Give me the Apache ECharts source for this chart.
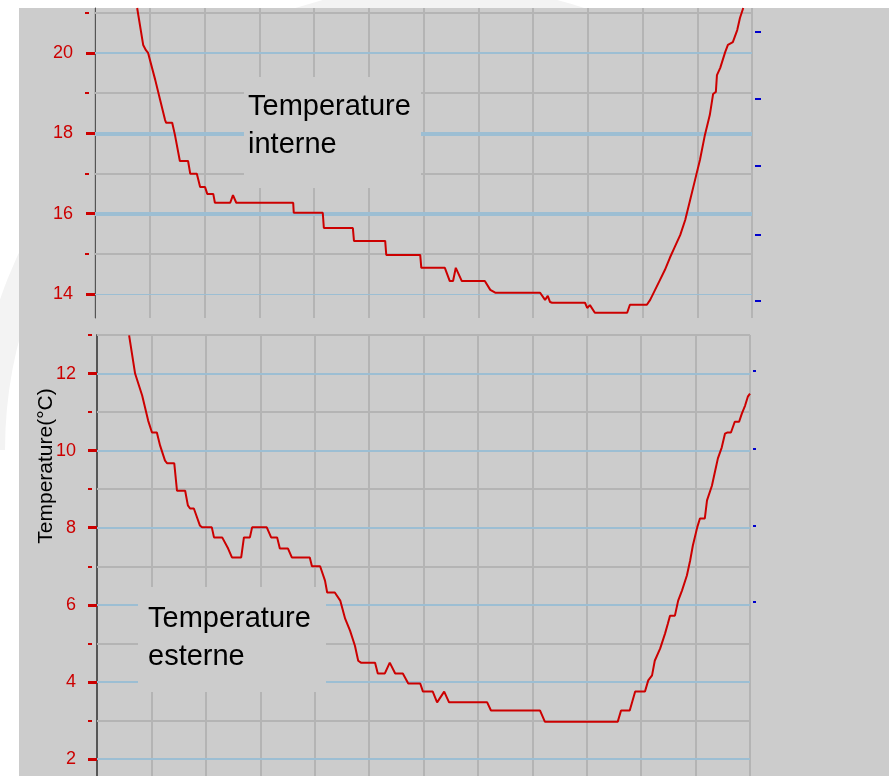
<!DOCTYPE html>
<html><head><meta charset="utf-8">
<script src="https://cdn.jsdelivr.net/npm/echarts@6/dist/echarts.min.js"></script>
<style>html,body{margin:0;padding:0;background:#fff}#c{width:889px;height:776px}</style>
</head><body><div id="c"></div>
<script>
// ---- data (x in grid columns 0..12, y in °C) ----
const topX = [0.77,0.88,0.93,0.97,1.10,1.19,1.28,1.30,1.41,1.46,1.55,1.70,1.74,1.86,1.92,2.01,2.05,2.16,2.19,2.47,2.52,2.58,3.62,3.63,4.16,4.18,4.71,4.73,5.30,5.32,5.94,5.96,6.39,6.48,6.54,6.59,6.70,7.12,7.22,7.31,8.13,8.22,8.27,8.31,8.35,8.95,8.99,9.04,9.13,9.72,9.77,10.08,10.14,10.23,10.32,10.41,10.50,10.59,10.69,10.78,10.87,10.96,11.05,11.14,11.23,11.29,11.34,11.36,11.42,11.51,11.56,11.65,11.73,11.78,11.84];
const topTemps = [21.12,20.20,20.07,20.00,19.33,18.83,18.33,18.26,18.26,17.96,17.31,17.31,16.99,16.99,16.66,16.66,16.49,16.49,16.27,16.27,16.46,16.27,16.27,16.02,16.02,15.64,15.64,15.32,15.32,14.97,14.97,14.65,14.65,14.32,14.32,14.65,14.32,14.32,14.10,14.03,14.03,13.85,13.95,13.80,13.78,13.78,13.65,13.72,13.53,13.53,13.73,13.73,13.85,14.10,14.35,14.60,14.90,15.17,15.47,15.84,16.34,16.84,17.34,17.96,18.46,18.98,19.03,19.45,19.63,20.02,20.20,20.27,20.57,20.87,21.12];
const bottomX = [0.59,0.70,0.83,0.94,1.01,1.10,1.16,1.25,1.29,1.42,1.47,1.62,1.67,1.71,1.78,1.89,1.93,2.11,2.15,2.30,2.41,2.48,2.65,2.70,2.81,2.85,3.12,3.20,3.31,3.36,3.51,3.58,3.91,3.95,4.10,4.19,4.23,4.37,4.47,4.56,4.65,4.74,4.80,4.85,5.11,5.16,5.29,5.38,5.48,5.62,5.72,5.94,5.99,6.17,6.25,6.38,6.47,7.17,7.24,8.14,8.23,9.57,9.63,9.79,9.89,10.07,10.13,10.20,10.25,10.35,10.44,10.49,10.53,10.62,10.68,10.75,10.84,10.90,10.95,11.03,11.08,11.17,11.21,11.30,11.36,11.41,11.48,11.54,11.58,11.65,11.72,11.80,11.85,11.91,11.96,12.00];
const bottomTemps = [12.99,12.00,11.43,10.78,10.47,10.47,10.13,9.74,9.67,9.67,8.96,8.96,8.58,8.50,8.50,8.06,8.01,8.01,7.75,7.75,7.46,7.23,7.23,7.75,7.75,8.01,8.01,7.75,7.75,7.46,7.46,7.23,7.23,7.00,7.00,6.63,6.32,6.32,6.11,5.64,5.33,4.94,4.55,4.50,4.50,4.22,4.22,4.50,4.22,4.22,3.96,3.96,3.75,3.75,3.47,3.75,3.47,3.47,3.26,3.26,2.97,2.97,3.26,3.26,3.75,3.75,4.04,4.17,4.55,4.87,5.26,5.51,5.72,5.72,6.11,6.37,6.76,7.15,7.54,8.01,8.24,8.24,8.71,9.09,9.48,9.80,10.08,10.44,10.47,10.47,10.75,10.75,10.96,11.17,11.40,11.48];
const topMajor = [14,16,18,20];
const topMinor = [15,17,19,21];
const bottomMajor = [2,4,6,8,10,12];
const bottomMinor = [3,5,7,9,11,13];
const topRightTicks = [13.83,15.47,17.19,18.85,20.52];
const bottomRightTicks = [6.09,8.06,10.06,12.08];
const topRange = [13.4,21.12];
const bottomRange = [1.56,13];
const xRange = [0,12];
const labelInterne = 'Temperature\ninterne';
const labelEsterne = 'Temperature\nesterne';
const axisTitle = 'Temperature(°C)';

// ---- styles ----
const RED = '#cc0000', BLUE = '#9cbed3', GREY = '#b4b4b4', BG = '#cccccc';
const FONT = 'Liberation Sans, Arial, sans-serif';
const topBlueW = {14:1, 16:4, 18:4, 20:2};

function zip(xs, ys){ return xs.map((x,i)=>[x, ys[i]]); }
function gridLines(major, minor, widths){
  return major.map(v=>({yAxis:v, lineStyle:{color:BLUE, width:(widths&&widths[v])||2, type:'solid'}}))
    .concat(minor.map(v=>({yAxis:v, lineStyle:{color:GREY, width:2, type:'solid'}})));
}
function yAxes(gi, range, major, minor, right, off, lineW, rightLen, rightW){
  const base = {type:'value', gridIndex:gi, min:range[0], max:range[1], splitLine:{show:false}};
  return [
    Object.assign({}, base, {position:'left', offset:off,
      axisLine:{show:true, lineStyle:{color:'#555', width:lineW}},
      axisTick:{show:true, customValues:major, length:9, lineStyle:{color:RED, width:3}},
      axisLabel:{show:true, customValues:major, color:RED, fontSize:18, fontFamily:FONT, margin:16}}),
    Object.assign({}, base, {position:'left', offset:off, axisLine:{show:false},
      axisTick:{show:true, customValues:minor, length:4, lineStyle:{color:RED, width:2}},
      axisLabel:{show:false, customValues:minor}}),
    Object.assign({}, base, {position:'right', offset:3, axisLine:{show:false},
      axisTick:{show:true, customValues:right, length:rightLen, lineStyle:{color:'#0000cc', width:rightW}},
      axisLabel:{show:false, customValues:right}})
  ];
}
const xAxisBase = {type:'value', min:xRange[0], max:xRange[1], interval:1,
  axisLine:{show:false}, axisTick:{show:false}, axisLabel:{show:false},
  splitLine:{show:true, lineStyle:{color:GREY, width:2}}};

const chart = echarts.init(document.getElementById('c'), null, {renderer:'canvas'});
chart.setOption({
  backgroundColor:'#ffffff',
  animation:false,
  grid:[
    {left:95, right:137, top:8, height:310},
    {left:97, right:139, top:335, bottom:0}
  ],
  xAxis:[Object.assign({gridIndex:0}, xAxisBase), Object.assign({gridIndex:1}, xAxisBase)],
  yAxis: yAxes(0, topRange, topMajor, topMinor, topRightTicks, 6, 1, 6, 2)
    .concat(yAxes(1, bottomRange, bottomMajor, bottomMinor, bottomRightTicks, 5, 2, 3, 2)),
  series:[
    {type:'line', xAxisIndex:0, yAxisIndex:0, data:zip(topX, topTemps), showSymbol:false, z:3,
     lineStyle:{color:RED, width:2}, silent:true,
     markLine:{silent:true, z:1, symbol:['none','none'], label:{show:false}, emphasis:{disabled:true},
       data:gridLines(topMajor, topMinor, topBlueW)}},
    {type:'line', xAxisIndex:1, yAxisIndex:3, data:zip(bottomX, bottomTemps), showSymbol:false, z:3,
     lineStyle:{color:RED, width:2}, silent:true,
     markLine:{silent:true, z:1, symbol:['none','none'], label:{show:false}, emphasis:{disabled:true},
       data:gridLines(bottomMajor, bottomMinor, null)}}
  ],
  graphic:[
    {type:'arc', z:-20, silent:true, shape:{cx:440, cy:450, r:450, startAngle:Math.PI, endAngle:5.35, clockwise:true},
     style:{stroke:'#f3f3f3', lineWidth:30, fill:null}},
    {type:'rect', z:-10, silent:true, shape:{x:19, y:8, width:870, height:768}, style:{fill:BG}},
    {type:'rect', z:2, silent:true, shape:{x:244, y:77, width:177, height:111}, style:{fill:BG}},
    {type:'rect', z:2, silent:true, shape:{x:138, y:587, width:188, height:105}, style:{fill:BG}},
    {type:'text', z:4, silent:true, x:248, y:88, style:{text:labelInterne, fontSize:29, lineHeight:38, fontFamily:FONT, fill:'#000'}},
    {type:'text', z:4, silent:true, x:148, y:600, style:{text:labelEsterne, fontSize:29, lineHeight:38, fontFamily:FONT, fill:'#000'}},
    {type:'text', z:4, silent:true, x:46, y:466, rotation:Math.PI/2,
     style:{text:axisTitle, fontSize:21, fontFamily:FONT, fill:'#000', align:'center', verticalAlign:'middle'}}
  ]
});
</script></body></html>
